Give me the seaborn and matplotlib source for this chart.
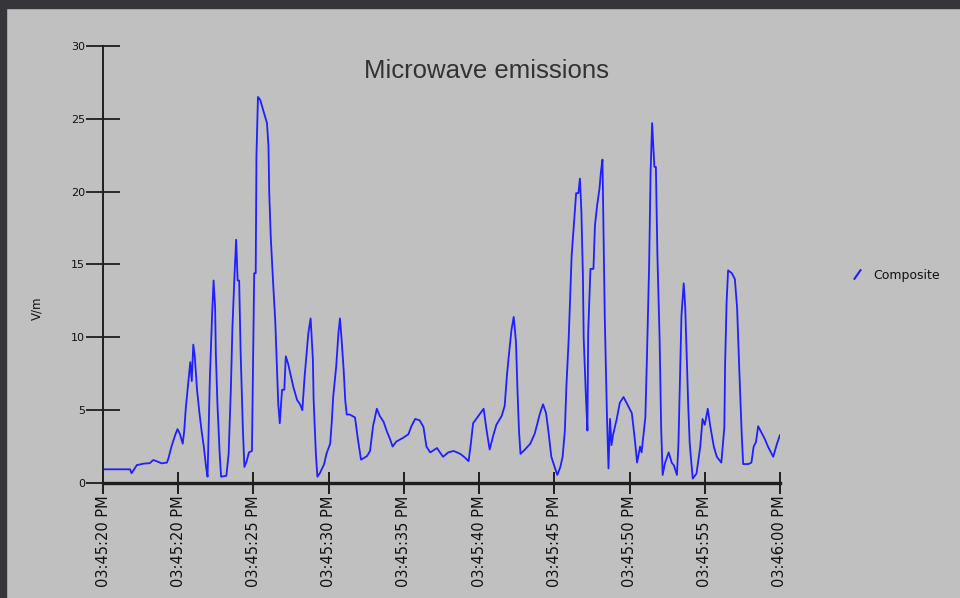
import numpy as np
import pandas as pd
import matplotlib
matplotlib.use("Agg")
import matplotlib.pyplot as plt
from matplotlib.lines import Line2D
from matplotlib.patches import Rectangle
import seaborn as sns

# seconds after 03:45:00 PM
seconds = [15.0, 16.8, 16.9, 17.25, 17.7, 18.1, 18.35, 18.55, 18.9, 19.25,
           19.35, 19.55, 19.8, 19.95, 20.1, 20.3, 20.4, 20.5, 20.65, 20.8,
           20.9, 21.0, 21.1, 21.25, 21.4, 21.55, 21.7, 21.85, 21.95, 22.0,
           22.1, 22.25, 22.35, 22.45, 22.5, 22.6, 22.75, 22.85, 23.2, 23.35,
           23.5, 23.6, 23.75, 23.85, 23.95, 24.05, 24.15, 24.3, 24.4, 24.55,
           24.7, 24.9, 24.95, 25.05, 25.15, 25.2, 25.3, 25.45, 25.7, 25.9,
           26.0, 26.05, 26.15, 26.3, 26.45, 26.55, 26.65, 26.75, 26.9, 27.05,
           27.15, 27.3, 27.65, 27.9, 28.1, 28.25, 28.4, 28.65, 28.8, 28.95,
           29.0, 29.15, 29.25, 29.4, 29.7, 29.85, 30.1, 30.2, 30.3, 30.5,
           30.65, 30.75, 30.85, 31.0, 31.1, 31.2, 31.4, 31.75, 31.95, 32.15,
           32.55, 32.75, 32.95, 33.2, 33.4, 33.65, 33.85, 34.1, 34.25, 34.5,
           34.95, 35.3, 35.5, 35.75, 36.05, 36.3, 36.5, 36.75, 37.2, 37.6,
           37.95, 38.3, 38.75, 39.05, 39.3, 39.45, 39.6, 39.95, 40.3, 40.5,
           40.7, 40.95, 41.15, 41.5, 41.7, 41.85, 42.0, 42.15, 42.3, 42.45,
           42.55, 42.65, 42.75, 43.05, 43.4, 43.7, 44.05, 44.25, 44.45, 44.6,
           44.8, 45.05, 45.2, 45.4, 45.55, 45.7, 45.8, 45.95, 46.05, 46.15,
           46.3, 46.45, 46.6, 46.7, 46.8, 46.9, 46.95, 47.1, 47.2, 47.25,
           47.4, 47.6, 47.7, 47.85, 48.0, 48.1, 48.2, 48.25, 48.35, 48.5,
           48.6, 48.7, 48.8, 48.9, 49.15, 49.35, 49.6, 49.8, 50.15, 50.35,
           50.5, 50.7, 50.8, 51.05, 51.15, 51.3, 51.4, 51.5, 51.65, 51.75,
           51.85, 52.0, 52.1, 52.2, 52.35, 52.6, 52.8, 52.95, 53.15, 53.25,
           53.35, 53.45, 53.6, 53.7, 53.8, 53.9, 54.0, 54.2, 54.45, 54.7,
           54.85, 55.0, 55.2, 55.35, 55.6, 55.8, 56.1, 56.3, 56.35, 56.45,
           56.55, 56.8, 57.0, 57.15, 57.3, 57.45, 57.55, 57.9, 58.1, 58.25,
           58.4, 58.55, 58.8, 59.0, 59.2, 59.35, 59.55, 59.8, 60.0]

composite = [0.94, 0.94, 0.67, 1.23, 1.33, 1.36, 1.58, 1.5, 1.35, 1.4,
             1.7, 2.5, 3.3, 3.7, 3.4, 2.7, 3.6, 5.1, 6.7, 8.3,
             7.0, 9.5, 8.7, 6.4, 4.9, 3.6, 2.5, 1.1, 0.43, 2.7,
             7.1, 11.5, 13.9, 12.1, 8.9, 5.6, 2.1, 0.43, 0.5, 2.0,
             6.5, 10.6, 14.5, 16.7, 13.9, 13.9, 8.9, 3.6, 1.1, 1.5,
             2.1, 2.2, 6.3, 14.4, 14.4, 22.5, 26.5, 26.3, 25.4, 24.7,
             23.1, 19.9, 16.9, 13.9, 11.1, 8.2, 5.4, 4.1, 6.4, 6.4,
             8.7, 8.2, 6.6, 5.7, 5.4, 5.0, 7.3, 10.3, 11.3, 8.5,
             5.7, 2.0, 0.43, 0.65, 1.3, 2.0, 2.7, 4.1, 5.9, 8.0,
             10.3, 11.3, 10.0, 7.7, 5.7, 4.7, 4.7, 4.5, 2.95, 1.6,
             1.85, 2.2, 3.9, 5.1, 4.6, 4.2, 3.6, 2.95, 2.5, 2.85,
             3.1, 3.35, 3.9, 4.4, 4.3, 3.85, 2.5, 2.1, 2.4, 1.8,
             2.1, 2.2, 2.0, 1.75, 1.5, 2.7, 4.1, 4.6, 5.1, 3.6,
             2.3, 3.3, 4.0, 4.6, 5.3, 7.4, 9.0, 10.5, 11.4, 9.7,
             6.4, 3.6, 2.0, 2.3, 2.7, 3.4, 4.8, 5.4, 4.8, 3.6,
             1.8, 1.0, 0.55, 1.1, 1.8, 3.6, 6.6, 9.8, 12.8, 15.6,
             17.7, 19.9, 19.9, 20.9, 18.6, 14.2, 10.0, 5.9, 3.6, 10.3,
             14.7, 14.7, 17.7, 19.1, 20.2, 21.4, 22.2, 18.6, 11.5, 4.5,
             1.0, 4.4, 2.6, 3.3, 4.4, 5.5, 5.9, 5.5, 4.8, 3.0,
             1.4, 2.5, 2.1, 4.5, 8.4, 14.9, 21.4, 24.7, 21.7, 21.7,
             15.7, 9.8, 3.8, 0.55, 1.35, 2.1, 1.4, 1.2, 0.55, 2.7,
             7.1, 11.5, 13.7, 12.1, 8.7, 5.3, 2.7, 0.3, 0.65, 2.5,
             4.4, 4.0, 5.1, 4.0, 2.5, 1.8, 1.4, 3.8, 8.1, 12.4,
             14.6, 14.4, 14.0, 12.0, 7.6, 3.5, 1.3, 1.3, 1.4, 2.5,
             2.8, 3.9, 3.4, 3.0, 2.5, 2.2, 1.8, 2.7, 3.3]

tick_seconds = [15, 20, 25, 30, 35, 40, 45, 50, 55, 60]
tick_labels = ["03:45:20 PM", "03:45:20 PM", "03:45:25 PM", "03:45:30 PM",
               "03:45:35 PM", "03:45:40 PM", "03:45:45 PM", "03:45:50 PM",
               "03:45:55 PM", "03:46:00 PM"]
y_ticks = [0, 5, 10, 15, 20, 25, 30]

df = pd.DataFrame({"Time": seconds, "V/m": composite})

bg = "#c0c0c0"
line_color = "#1f1fff"
axis_color = "#1e1e1e"

sns.set_style("white")
plt.rcParams["font.family"] = ["DejaVu Sans"]

fig = plt.figure(figsize=(9.6, 5.98), dpi=100, facecolor=bg)
ax = fig.add_axes([0.1073, 0.1923, 0.7052, 0.7308])
ax.set_facecolor(bg)

sns.lineplot(data=df, x="Time", y="V/m", ax=ax, color=line_color,
             linewidth=1.3, estimator=None, sort=False)

ax.set_xlim(15, 60)
ax.set_ylim(0, 30)
ax.set_xticks(tick_seconds)
ax.set_xticklabels(tick_labels, rotation=90, fontsize=10.5, color="#111111")
ax.set_yticks(y_ticks)
ax.set_yticklabels([str(v) for v in y_ticks], fontsize=8, color="#111111")

for side in ["top", "right"]:
    ax.spines[side].set_visible(False)
ax.spines["left"].set_color(axis_color)
ax.spines["left"].set_linewidth(1.4)
ax.spines["bottom"].set_color(axis_color)
ax.spines["bottom"].set_linewidth(2.4)

ax.tick_params(axis="y", direction="inout", length=24, width=1.3,
               color=axis_color, pad=1, left=True)
ax.tick_params(axis="x", direction="inout", length=16, width=1.4,
               color=axis_color, pad=1, bottom=True)

ax.set_xlabel("")
ax.set_ylabel("")
fig.text(37 / 960, 1 - 308 / 598, "V/m", rotation=90, ha="center",
         va="center", fontsize=8.5, color="#111111")

fig.text(487 / 960, 1 - 71 / 598, "Microwave emissions", ha="center",
         va="center", fontsize=18.5, color="#333333",
         family=["Liberation Sans", "DejaVu Sans"])

handle = Line2D([], [], color=line_color, lw=0, marker=(2, 0, -35),
                markersize=9, markeredgewidth=1.5)
leg = ax.legend([handle], ["Composite"], loc="center left",
                bbox_to_anchor=(843 / 960, 1 - 275 / 598),
                bbox_transform=fig.transFigure, frameon=False,
                handlelength=1.2, handletextpad=0.7, borderpad=0,
                fontsize=9)
for t in leg.get_texts():
    t.set_color("#111111")

# window frame: dark strip on top and on the left
fig.patches.append(Rectangle((0, 1 - 8 / 598), 1, 8 / 598,
                             transform=fig.transFigure, color="#35353a",
                             zorder=10))
fig.patches.append(Rectangle((0, 0), 6 / 960, 1,
                             transform=fig.transFigure, color="#35353a",
                             zorder=10))

fig.savefig("out.png", dpi=100, facecolor=bg)
